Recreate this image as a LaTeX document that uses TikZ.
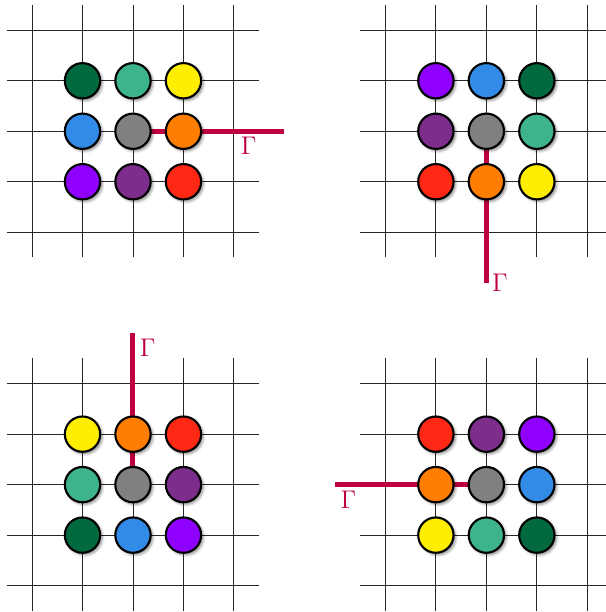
\documentclass[tikz,border=0pt]{standalone}
\usepackage{xcolor}
\usepackage{amsmath}
\usepackage{tikz}
\usetikzlibrary{positioning, shadows.blur}

\definecolor{dkgreen}{RGB}{0,105,62}
\definecolor{mint}{RGB}{61,180,138}
\definecolor{lemon}{RGB}{255,238,0}
\definecolor{bleu}{RGB}{49,139,231}
\definecolor{ash}{RGB}{128,128,128}
\definecolor{tangerine}{RGB}{255,125,0}
\definecolor{electric}{RGB}{143,0,255}
\definecolor{plum}{RGB}{125,45,140}
\definecolor{scarlet}{RGB}{255,40,20}

\begin{document}
\begin{tikzpicture}[
    site/.style={circle, draw, line width=1.2pt, minimum size=0.7cm, inner sep=0pt,
        blur shadow={shadow xshift=1.2pt, shadow yshift=-1.2pt, shadow blur radius=1.5pt, shadow opacity=45}},
    gridline/.style={black!85, line width=0.5pt},
    cut/.style={purple, line width=2.8pt},
    cutlabel/.style={purple, font=\Large, inner sep=0pt}
]
\useasboundingbox (-0.634,-7.523) rectangle (11.351,4.6);

% square lattices
\foreach \ox/\oy in {0/0, 7/0, 0/-7, 7/-7} {
    \foreach \i in {0,...,4} {
        \draw[gridline] (\ox+\i,\oy-0.5) -- (\ox+\i,\oy+4.5);
        \draw[gridline] (\ox-0.5,\oy+\i) -- (\ox+4.5,\oy+\i);
    }
}

% branch cuts
\coordinate (tlc) at (2,2);   \coordinate (tle) at (5,2);
\coordinate (trc) at (9,2);   \coordinate (tre) at (9,-1);
\coordinate (blc) at (2,-5);  \coordinate (ble) at (2,-2);
\coordinate (brc) at (9,-5);  \coordinate (bre) at (6,-5);
\draw[cut] (tlc) -- (tle);
\draw[cut] (trc) -- (tre);
\draw[cut] (blc) -- (ble);
\draw[cut] (brc) -- (bre);

% sites, row by row from the top
\foreach \c [count=\n from 0] in {dkgreen, mint, lemon, bleu, ash, tangerine, electric, plum, scarlet}
    \node[site, fill=\c] (tl\n) at ({1+mod(\n,3)}, {3-int(\n/3)}) {};
\foreach \c [count=\n from 0] in {electric, bleu, dkgreen, plum, ash, mint, scarlet, tangerine, lemon}
    \node[site, fill=\c] (tr\n) at ({8+mod(\n,3)}, {3-int(\n/3)}) {};
\foreach \c [count=\n from 0] in {lemon, tangerine, scarlet, mint, ash, plum, dkgreen, bleu, electric}
    \node[site, fill=\c] (bl\n) at ({1+mod(\n,3)}, {-4-int(\n/3)}) {};
\foreach \c [count=\n from 0] in {scarlet, plum, electric, tangerine, ash, bleu, lemon, mint, dkgreen}
    \node[site, fill=\c] (br\n) at ({8+mod(\n,3)}, {-4-int(\n/3)}) {};

\node[cutlabel] (tllab) at (4.29,1.72) {$\Gamma$};
\node[cutlabel] (trlab) at (9.27,-1.0) {$\Gamma$};
\node[cutlabel] (bllab) at (2.29,-2.29) {$\Gamma$};
\node[cutlabel] (brlab) at (6.27,-5.29) {$\Gamma$};
\end{tikzpicture}
\end{document}
